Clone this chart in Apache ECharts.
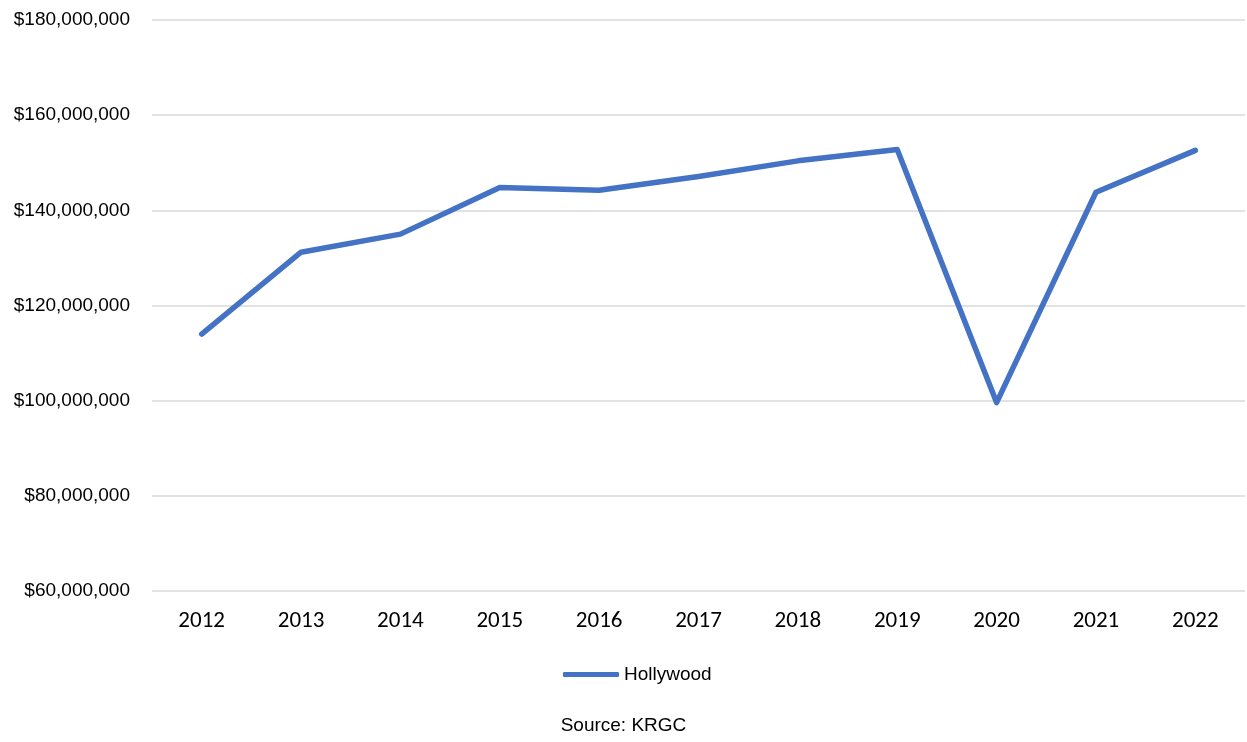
<!DOCTYPE html>
<html>
<head>
<meta charset="utf-8">
<script src="https://cdn.jsdelivr.net/npm/echarts@6/dist/echarts.min.js"></script>
<style>
html,body{margin:0;padding:0;background:#fff;}
#chart{width:1247px;height:742px;}
</style>
</head>
<body>
<div id="chart"></div>
<script>
var years = ['2012','2013','2014','2015','2016','2017','2018','2019','2020','2021','2022'];
var hollywood = [114000000, 131200000, 135000000, 144800000, 144200000, 147100000, 150400000, 152800000, 99600000, 143800000, 152600000];
var seriesName = 'Hollywood';
var sourceText = 'Source: KRGC';
var yMin = 60000000, yMax = 180000000, yStep = 20000000;

var narrow = '"Liberation Sans Narrow", "Arial Narrow", "Liberation Sans", Arial, sans-serif';
var chart = echarts.init(document.getElementById('chart'));
chart.setOption({
  animation: false,
  backgroundColor: '#fff',
  title: {
    text: sourceText,
    left: 'center',
    top: 711,
    textStyle: {fontFamily: narrow, fontSize: 19, fontWeight: 'normal', color: '#000'}
  },
  legend: {
    data: [seriesName],
    left: 558,
    top: 660,
    icon: 'roundRect',
    itemWidth: 56,
    itemHeight: 5,
    textStyle: {fontFamily: narrow, fontSize: 19, color: '#000'}
  },
  grid: {left: 152, right: 2, top: 20, bottom: 151, containLabel: false, outerBoundsMode: 'none'},
  xAxis: {
    type: 'category',
    data: years,
    boundaryGap: true,
    axisLine: {show: false},
    axisTick: {show: false},
    axisLabel: {fontFamily: 'Carlito, Lato, "Liberation Sans", sans-serif', fontSize: 23, color: '#000', margin: 19}
  },
  yAxis: {
    type: 'value',
    min: yMin,
    max: yMax,
    interval: yStep,
    axisLine: {show: false},
    axisTick: {show: false},
    splitLine: {lineStyle: {color: '#d9d9d9', width: 1.5}},
    axisLabel: {
      fontFamily: narrow, fontSize: 19, color: '#000', margin: 22,
      formatter: function (v) { return '$' + v.toLocaleString('en-US'); }
    }
  },
  series: [{
    name: seriesName,
    type: 'line',
    data: hollywood,
    symbol: 'none',
    showSymbol: false,
    lineStyle: {color: '#4472c4', width: 5.5, cap: 'round', join: 'round'},
    itemStyle: {color: '#4472c4'}
  }]
});
</script>
</body>
</html>
